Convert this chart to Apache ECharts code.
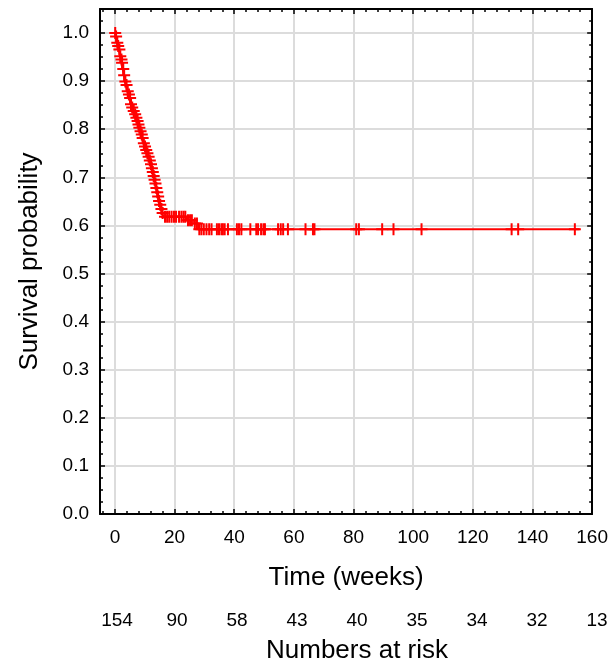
<!DOCTYPE html>
<html>
<head>
<meta charset="utf-8">
<script src="https://cdn.jsdelivr.net/npm/echarts@6/dist/echarts.min.js"></script>
<style>
html, body { margin: 0; padding: 0; background: #fff; }
#chart { width: 611px; height: 666px; }
</style>
</head>
<body>
<div id="chart"></div>
<script>
// Kaplan-Meier steps (weeks, survival)
const kmTime = [0, 0.3, 0.6, 1.0, 1.3, 1.7, 2.0, 2.3, 2.6, 3.0, 3.3, 3.7, 4.1, 4.5, 4.9,
  5.3, 5.6, 6.1, 6.6, 7.0, 7.4, 7.8, 8.1, 8.4, 8.8, 9.1, 9.5, 9.9, 10.3, 10.7,
  11.1, 11.5, 11.9, 12.3, 12.6, 12.9, 13.2, 13.5, 13.8, 14.1, 14.4, 14.7, 15.0, 15.4, 15.8,
  16.3, 24.0, 26.6, 28.0, 155.8];
const kmSurv = [1.000, 0.993, 0.980, 0.973, 0.966, 0.952, 0.945, 0.938, 0.925, 0.912, 0.899, 0.892, 0.879, 0.872, 0.865,
  0.852, 0.845, 0.838, 0.831, 0.824, 0.817, 0.810, 0.803, 0.796, 0.789, 0.782, 0.771, 0.764, 0.757, 0.750,
  0.743, 0.735, 0.727, 0.719, 0.711, 0.703, 0.695, 0.687, 0.678, 0.669, 0.660, 0.651, 0.643, 0.634, 0.626,
  0.618, 0.611, 0.604, 0.592, 0.592];

// censored observations (weeks)
const censorTime = [0.1, 0.4, 0.8, 1.1, 1.5, 1.8, 2.2, 2.4, 2.8, 3.1, 3.5, 3.9, 4.3, 4.7, 5.1, 5.4, 5.8,
  6.3, 6.8, 7.2, 7.6, 7.9, 8.2, 8.6, 9.0, 9.3, 9.7, 10.1, 10.5, 10.9, 11.3, 11.7, 12.1, 12.4, 12.7,
  13.0, 13.3, 13.6, 13.9, 14.2, 14.5, 14.8, 15.2, 15.6, 16.0, 16.8, 17.5, 18.2, 19.0, 19.8, 20.5,
  21.5, 22.3, 23.0, 23.6, 24.5, 25.2, 25.8, 26.8, 27.5, 28.3, 29.0, 29.8, 30.7, 31.6, 32.4,
  34.2, 34.9, 35.7, 36.2, 36.8, 37.9, 40.9, 41.6, 42.4, 45.4, 47.4, 48.0, 49.0, 49.8, 50.3,
  54.7, 55.6, 56.4, 58.0, 63.9, 66.4, 66.9, 80.9, 81.8, 89.6, 93.4, 102.8, 133.0, 135.2, 154.2];

// numbers at risk under the time axis, at 0, 20, ... 160 weeks
const riskCounts = ['154', '90', '58', '43', '40', '35', '34', '32', '13'];

const font = '"Liberation Sans", Arial, sans-serif';
const red = '#ff0000';

function survAt(t) {
  let s = 1;
  for (let i = 0; i < kmTime.length; i++) {
    if (kmTime[i] <= t) s = kmSurv[i];
  }
  return s;
}

const curve = kmTime.map((t, i) => [t, kmSurv[i]]);
const censored = censorTime.map(t => [t, survAt(t)]);

const frameLine = { show: true, onZero: false, lineStyle: { color: '#000', width: 2 } };
const tickIn = { show: true, inside: true, length: 5, lineStyle: { color: '#000', width: 1.5 } };
const minorX = { show: true, splitNumber: 5, length: 3, lineStyle: { color: '#000', width: 1.5 } };
const minorY = { show: true, splitNumber: 4, length: 3, lineStyle: { color: '#000', width: 1.5 } };
const gridLine = { show: true, lineStyle: { color: '#dcdcdc', width: 2 } };

const xBase = { type: 'value', gridIndex: 0, min: -5, max: 160, minInterval: 20, maxInterval: 20 };
const yBase = { type: 'value', gridIndex: 0, min: 0, max: 1.05, interval: 0.1 };

const option = {
  animation: false,
  backgroundColor: '#fff',
  textStyle: { fontFamily: font },
  grid: [
    { left: 100, right: 18, top: 9, bottom: 152 },
    { left: 117, right: 14, top: 606, height: 2 }
  ],
  xAxis: [
    Object.assign({}, xBase, {
      position: 'bottom',
      axisLine: frameLine, axisTick: tickIn, minorTick: minorX, splitLine: gridLine,
      axisLabel: {
        margin: 14, fontSize: 19, color: '#000', fontFamily: font,
        formatter: v => (Math.abs(v % 20) < 1e-9 ? String(Math.round(v)) : '')
      },
      name: 'Time (weeks)', nameLocation: 'middle', nameGap: 51,
      nameTextStyle: { fontSize: 26, color: '#000', fontFamily: font }
    }),
    Object.assign({}, xBase, {
      position: 'top',
      axisLine: frameLine, axisTick: tickIn, minorTick: minorX,
      splitLine: { show: false }, axisLabel: { show: false }
    }),
    {
      type: 'category', gridIndex: 1, data: riskCounts, boundaryGap: false,
      axisLine: { show: false }, axisTick: { show: false }, splitLine: { show: false },
      axisLabel: { interval: 0, margin: 3, fontSize: 19, color: '#000', fontFamily: font },
      name: 'Numbers at risk', nameLocation: 'middle', nameGap: 30,
      nameTextStyle: { fontSize: 26, color: '#000', fontFamily: font }
    }
  ],
  yAxis: [
    Object.assign({}, yBase, {
      position: 'left',
      axisLine: frameLine, axisTick: tickIn, minorTick: minorY, splitLine: gridLine,
      axisLabel: {
        margin: 11, fontSize: 19, color: '#000', fontFamily: font,
        formatter: v => (Math.abs(v * 10 - Math.round(v * 10)) < 1e-6 ? v.toFixed(1) : '')
      },
      name: 'Survival probability', nameLocation: 'middle', nameGap: 57,
      nameTextStyle: { fontSize: 26, color: '#000', fontFamily: font }
    }),
    Object.assign({}, yBase, {
      position: 'right',
      axisLine: frameLine, axisTick: tickIn, minorTick: minorY,
      splitLine: { show: false }, axisLabel: { show: false }
    }),
    { type: 'value', gridIndex: 1, show: false }
  ],
  series: [
    {
      type: 'line', xAxisIndex: 0, yAxisIndex: 0,
      data: curve, step: 'end', showSymbol: false, symbol: 'none',
      lineStyle: { color: red, width: 2 }, z: 3
    },
    {
      type: 'scatter', xAxisIndex: 0, yAxisIndex: 0,
      data: censored,
      symbol: 'path://M5 0L5 10M0 5L10 5', symbolSize: 12,
      itemStyle: { color: red, borderColor: red, borderWidth: 2, opacity: 1 },
      z: 4
    }
  ]
};

const chart = echarts.init(document.getElementById('chart'), null, { renderer: 'canvas' });
chart.setOption(option);
</script>
</body>
</html>
